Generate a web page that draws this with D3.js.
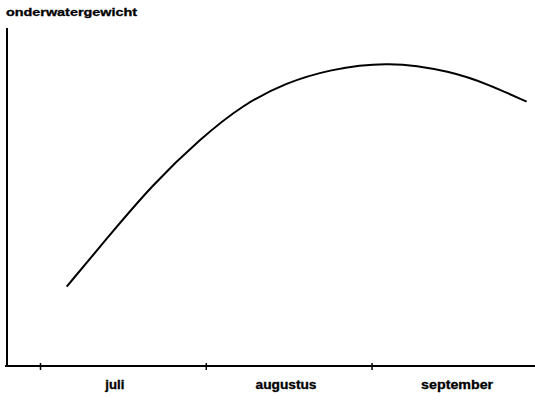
<!DOCTYPE html>
<html>
<head>
<meta charset="utf-8">
<script src="https://cdn.jsdelivr.net/npm/d3@7/dist/d3.min.js"></script>
<style>
  html, body { margin: 0; padding: 0; background: #fff; }
  svg { display: block; }
  text { font-family: "Liberation Sans", Arial, sans-serif; font-weight: bold; fill: #000; stroke: #000; stroke-width: 0.3; }
</style>
</head>
<body>
<svg id="chart" width="535" height="400"></svg>
<script>
// Season sample dates and the relative under-water weight on those dates
const sampleDates = ["2000-07-06", "2000-07-14", "2000-07-22", "2000-07-31", "2000-08-08", "2000-08-16",
                     "2000-08-24", "2000-09-04", "2000-09-16", "2000-09-23", "2000-09-30"];
const weightValues = [23.5, 38.7, 53.6, 67.3, 77.4, 83.8, 87.7, 90.2, 87.2, 83.2, 78.2];

// Month boundaries (ticks) and month names (labels)
const monthStarts = ["2000-07-01", "2000-08-01", "2000-09-01"];
const monthNames = ["juli", "augustus", "september"];
const labelDates = ["2000-07-15", "2000-08-16", "2000-09-17"];

const yTitle = "onderwatergewicht";

const parse = d3.timeParse("%Y-%m-%d");
const svg = d3.select("#chart");

const x = d3.scaleTime()
  .domain([parse("2000-07-01"), parse("2000-10-01")])
  .range([40, 532]);
const y = d3.scaleLinear()
  .domain([0, 100])
  .range([366, 28]);

// y axis: a plain vertical rule
svg.append("line")
  .attr("x1", 7).attr("x2", 7)
  .attr("y1", y(100)).attr("y2", y(0))
  .attr("stroke", "#000").attr("stroke-width", 2);

// x axis with ticks at the start of each month
const xAxis = d3.axisBottom(x)
  .tickValues(monthStarts.map(parse))
  .tickSize(6)
  .tickFormat("");
const gx = svg.append("g")
  .attr("transform", `translate(0,${y(0)})`)
  .call(xAxis);
gx.select(".domain").remove();
gx.selectAll(".tick line")
  .attr("y1", -3).attr("y2", 4)
  .attr("stroke", "#000").attr("stroke-width", 1.5);
svg.append("line")
  .attr("x1", 5).attr("x2", 535)
  .attr("y1", y(0)).attr("y2", y(0))
  .attr("stroke", "#000").attr("stroke-width", 2);

// month labels
const labelWidths = { "juli": 19, "augustus": 61, "september": 72 };
svg.selectAll("text.month")
  .data(monthNames)
  .join("text")
  .attr("class", "month")
  .attr("x", (d, i) => x(parse(labelDates[i])))
  .attr("y", 389)
  .attr("text-anchor", "middle")
  .attr("font-size", 12)
  .attr("textLength", d => labelWidths[d])
  .attr("lengthAdjust", "spacingAndGlyphs")
  .text(d => d);

// axis title
svg.append("text")
  .attr("x", 6)
  .attr("y", 16)
  .attr("font-size", 11)
  .attr("textLength", 131)
  .attr("lengthAdjust", "spacingAndGlyphs")
  .text(yTitle);

// the curve, as a smooth B-spline through the samples
const points = sampleDates.map((d, i) => ({ date: parse(d), value: weightValues[i] }));
const line = d3.line()
  .x(d => x(d.date))
  .y(d => y(d.value))
  .curve(d3.curveBasis);
svg.append("path")
  .datum(points)
  .attr("d", line)
  .attr("fill", "none")
  .attr("stroke", "#000")
  .attr("stroke-width", 2);
</script>
</body>
</html>
